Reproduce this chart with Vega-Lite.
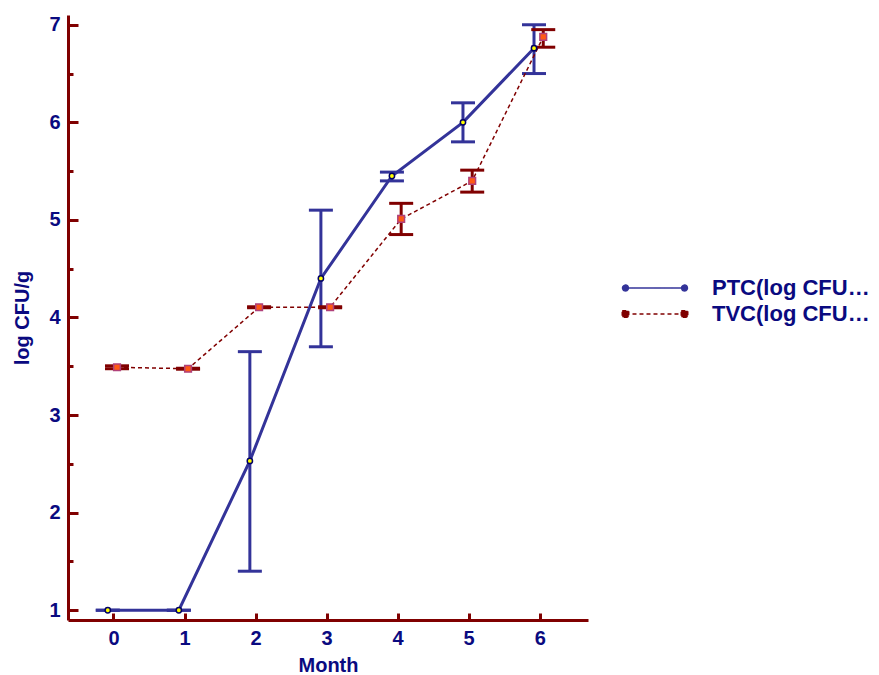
{
  "$schema": "https://vega.github.io/schema/vega-lite/v6.json",
  "width": 520,
  "height": 605,
  "autosize": {"type": "none"},
  "padding": {"left": 68, "top": 15, "right": 291, "bottom": 55},
  "background": "white",
  "config": {
    "view": {"stroke": null},
    "font": "Liberation Sans",
    "axis": {
      "grid": false,
      "domainColor": "#800000",
      "domainWidth": 3,
      "tickColor": "#800000",
      "tickWidth": 3,
      "labelColor": "#0a0a80",
      "labelFont": "Liberation Sans",
      "labelFontWeight": "bold",
      "labelFontSize": 20,
      "titleColor": "#0a0a80",
      "titleFont": "Liberation Sans",
      "titleFontWeight": "bold",
      "titleFontSize": 20
    }
  },
  "data": {
    "values": [
      {"series": "PTC(log CFU/g)", "month": 0, "mean": 1.0, "lo": 1.0, "hi": 1.0},
      {"series": "PTC(log CFU/g)", "month": 1, "mean": 1.0, "lo": 1.0, "hi": 1.0},
      {"series": "PTC(log CFU/g)", "month": 2, "mean": 2.53, "lo": 1.4, "hi": 3.65},
      {"series": "PTC(log CFU/g)", "month": 3, "mean": 4.4, "lo": 3.7, "hi": 5.1},
      {"series": "PTC(log CFU/g)", "month": 4, "mean": 5.45, "lo": 5.4, "hi": 5.49},
      {"series": "PTC(log CFU/g)", "month": 5, "mean": 6.0, "lo": 5.8, "hi": 6.2},
      {"series": "PTC(log CFU/g)", "month": 6, "mean": 6.76, "lo": 6.5, "hi": 7.0},
      {"series": "TVC(log CFU/g)", "month": 0, "mean": 3.49, "lo": 3.475, "hi": 3.505},
      {"series": "TVC(log CFU/g)", "month": 1, "mean": 3.475, "lo": 3.47, "hi": 3.48},
      {"series": "TVC(log CFU/g)", "month": 2, "mean": 4.105, "lo": 4.1, "hi": 4.11},
      {"series": "TVC(log CFU/g)", "month": 3, "mean": 4.105, "lo": 4.1, "hi": 4.11},
      {"series": "TVC(log CFU/g)", "month": 4, "mean": 5.01, "lo": 4.85, "hi": 5.17},
      {"series": "TVC(log CFU/g)", "month": 5, "mean": 5.4, "lo": 5.285, "hi": 5.51},
      {"series": "TVC(log CFU/g)", "month": 6, "mean": 6.875, "lo": 6.77, "hi": 6.95}
    ]
  },
  "transform": [
    {"calculate": "datum.month + (datum.series === 'PTC(log CFU/g)' ? -0.08 : 0.05)", "as": "mx"}
  ],
  "encoding": {
    "x": {
      "field": "mx",
      "type": "quantitative",
      "scale": {"domain": [-0.64, 6.68], "nice": false, "zero": false},
      "axis": {
        "title": "Month",
        "values": [0, 1, 2, 3, 4, 5, 6],
        "tickSize": -7,
        "labelPadding": 15,
        "titlePadding": 7
      }
    },
    "color": {
      "field": "series",
      "type": "nominal",
      "scale": {"domain": ["PTC(log CFU/g)", "TVC(log CFU/g)"], "range": ["#333399", "#800000"]},
      "legend": {
        "orient": "none",
        "legendX": 576,
        "legendY": 262,
        "title": null,
        "padding": 0,
        "symbolSize": 169,
        "symbolOpacity": 1,
        "symbolType": "M-4.54,0L4.54,0",
        "labelFont": "Liberation Sans",
        "labelFontWeight": "bold",
        "labelFontSize": 22,
        "labelColor": "#0a0a80",
        "labelOffset": 46,
        "rowPadding": 4,
        "encode": {
          "symbols": {
            "update": {
              "shape": {"signal": "datum.value === 'PTC(log CFU/g)' ? 'M-4.54,0L4.54,0M-4.99,0a0.45,0.45 0 1,0 0.9,0a0.45,0.45 0 1,0 -0.9,0ZM4.09,0a0.45,0.45 0 1,0 0.9,0a0.45,0.45 0 1,0 -0.9,0Z' : 'M-4.54,0L4.54,0M-5.04,-0.5h1v1h-1ZM4.04,-0.5h1v1h-1Z'"},
              "fill": {"signal": "datum.value === 'PTC(log CFU/g)' ? '#ffff00' : '#ff5a14'"},
              "stroke": {"signal": "datum.value === 'PTC(log CFU/g)' ? '#333399' : '#800000'"},
              "strokeDash": {"signal": "datum.value === 'PTC(log CFU/g)' ? [1,0] : [4,3]"},
              "strokeWidth": {"value": 1.5},
              "opacity": {"value": 1},
              "fillOpacity": {"value": 1},
              "strokeOpacity": {"value": 1}
            }
          }
        }
      }
    }
  },
  "layer": [
    {
      "mark": {"type": "point", "filled": true, "opacity": 0},
      "encoding": {
        "y": {
          "field": "mean",
          "type": "quantitative",
          "scale": {"domain": [0.9, 7.1], "nice": false, "zero": false},
          "axis": {
            "title": "log CFU/g",
            "values": [1, 1.5, 2, 2.5, 3, 3.5, 4, 4.5, 5, 5.5, 6, 6.5, 7],
            "labelExpr": "datum.value % 1 === 0 ? format(datum.value, 'd') : ''",
            "tickSize": {"condition": {"test": "datum.value % 1 === 0", "value": -10}, "value": -5},
            "labelPadding": 18,
            "titlePadding": 16
          }
        }
      }
    },
    {
      "mark": {"type": "rule", "strokeWidth": 3, "opacity": 1},
      "encoding": {
        "y": {"field": "lo", "type": "quantitative"},
        "y2": {"field": "hi"}
      }
    },
    {
      "mark": {"type": "tick", "orient": "horizontal", "size": 24, "thickness": 3, "opacity": 1},
      "encoding": {
        "y": {"field": "lo", "type": "quantitative"}
      }
    },
    {
      "mark": {"type": "tick", "orient": "horizontal", "size": 24, "thickness": 3, "opacity": 1},
      "encoding": {
        "y": {"field": "hi", "type": "quantitative"}
      }
    },
    {
      "transform": [{"filter": "datum.series === 'PTC(log CFU/g)'"}],
      "mark": {"type": "line", "strokeWidth": 3},
      "encoding": {
        "y": {"field": "mean", "type": "quantitative"}
      }
    },
    {
      "transform": [{"filter": "datum.series === 'TVC(log CFU/g)'"}],
      "mark": {"type": "line", "strokeWidth": 1.5, "strokeDash": [4, 3]},
      "encoding": {
        "y": {"field": "mean", "type": "quantitative"}
      }
    },
    {
      "transform": [{"filter": "datum.series === 'PTC(log CFU/g)'"}],
      "mark": {"type": "point", "shape": "circle", "filled": true, "size": 28, "fill": "#ffff00", "stroke": "#000066", "strokeWidth": 1.5, "opacity": 1},
      "encoding": {
        "y": {"field": "mean", "type": "quantitative"},
        "color": {"value": "#ffff00"}
      }
    },
    {
      "transform": [{"filter": "datum.series === 'TVC(log CFU/g)'"}],
      "mark": {"type": "point", "shape": "square", "filled": true, "size": 45, "fill": "#ff5a14", "stroke": "#b0407a", "strokeWidth": 1.5, "opacity": 1},
      "encoding": {
        "y": {"field": "mean", "type": "quantitative"},
        "color": {"value": "#ff5a14"}
      }
    }
  ]
}
